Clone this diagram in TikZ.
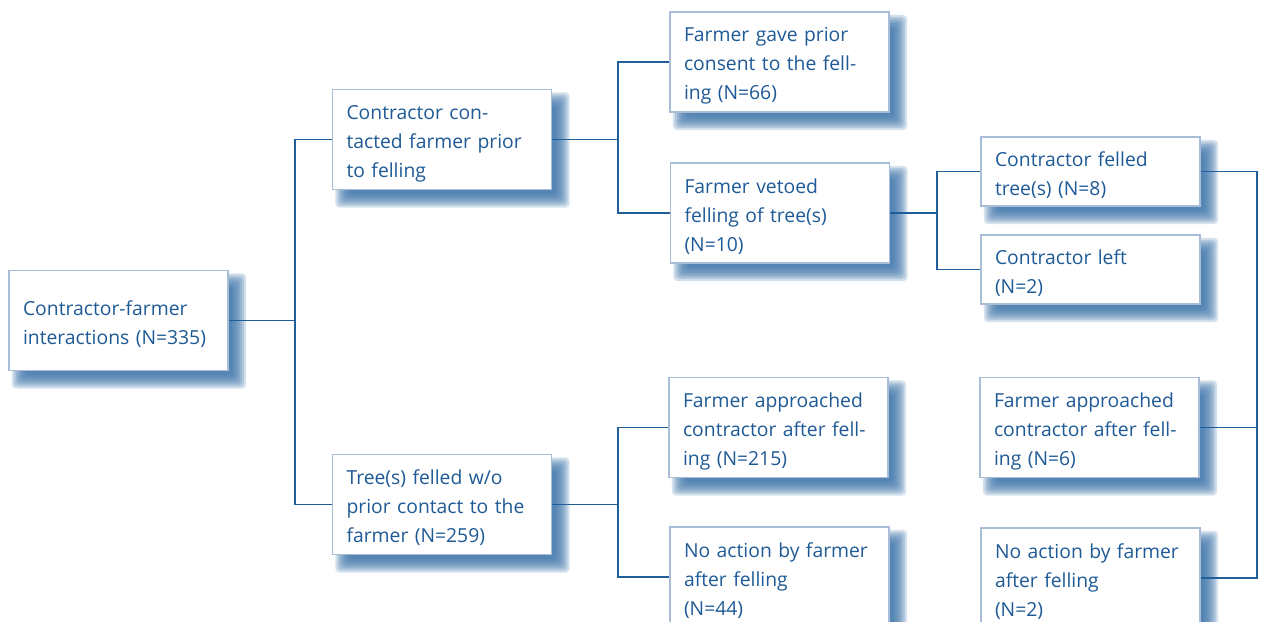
\documentclass[tikz,border=0pt]{standalone}
\usepackage{fontspec}
\usetikzlibrary{calc}
\newfontfamily\boxfont{Open Sans}
\definecolor{textblue}{HTML}{1E5A96}
\definecolor{lineblue}{HTML}{1F5E9B}
\definecolor{edgeblue}{HTML}{A9BDD8}
\definecolor{shadeblue}{HTML}{3A72A8}
\pgfdeclarelayer{background}
\pgfsetlayers{background,main}
\tikzset{
  box/.style={draw=edgeblue, fill=white, line width=0.7pt, text=textblue,
    minimum width=4.38cm, minimum height=2cm, text width=3.82cm,
    inner xsep=0.28cm, inner ysep=2pt, align=left,
    font=\boxfont\fontsize{11}{16.5}\selectfont,
    execute at begin node={\rule{0pt}{12.5pt}}},
  smallbox/.style={box, minimum height=1.38cm},
  shade/.style={fill=shadeblue, opacity=0.22, rounded corners=#1},
  link/.style={draw=lineblue, line width=0.8pt}
}
\begin{document}
\begin{tikzpicture}[x=0.02cm, y=-0.02cm]
  \useasboundingbox (0,0) rectangle (1262,622);

  \node[box] (all) at (118.5,320.5) {Contractor-farmer\\interactions (N=335)};

  \node[box] (contact) at (442,139.5) {Contractor con-\\tacted farmer prior\\to felling};
  \node[box] (nocontact) at (442,504.5) {Tree(s) felled w/o\\prior contact to the\\farmer (N=259)};

  \node[box] (consent) at (779.5,62) {Farmer gave prior\\consent to the fell-\\ing (N=66)};
  \node[box] (veto) at (780,213) {Farmer vetoed\\felling of tree(s)\\(N=10)};
  \node[box] (approach) at (778.5,427.5) {Farmer approached\\contractor after fell-\\ing (N=215)};
  \node[box] (noaction) at (779.5,577) {No action by farmer\\after felling\\(N=44)};

  \node[smallbox] (felled) at (1090.5,171.5) {Contractor felled\\tree(s) (N=8)};
  \node[smallbox] (left) at (1090.5,269.5) {Contractor left\\(N=2)};
  \node[box] (approachb) at (1089.5,427.5) {Farmer approached\\contractor after fell-\\ing (N=6)};
  \node[box] (noactionb) at (1090.5,578) {No action by farmer\\after felling\\(N=2)};

  % soft shadows behind the boxes
  \begin{pgfonlayer}{background}
    \foreach \n in {all,contact,nocontact,consent,veto,approach,noaction,felled,left,approachb,noactionb} {
      \foreach \d in {-0.14,-0.10,...,0.15} {
        \fill[shade=0.08cm] ($(\n.south west)+(0.21cm-\d cm,-0.21cm-\d cm)$)
          rectangle ($(\n.north east)+(0.21cm+\d cm,-0.21cm+\d cm)$);
      }
    }
  \end{pgfonlayer}

  % branch points
  \coordinate (j1) at (295,320.5);
  \coordinate (j2) at (618,139.5);
  \coordinate (j3) at (618,504.5);
  \coordinate (j4) at (937,213);
  \coordinate (j5) at (1257,578);

  \draw[link] (all.east) -- (j1) |- (contact.west);
  \draw[link] (j1) |- (nocontact.west);
  \draw[link] (contact.east) -- (j2) |- (consent.west);
  \draw[link] (j2) |- (veto.west);
  \draw[link] (nocontact.east) -- (j3) |- (approach.west);
  \draw[link] (j3) |- (noaction.west);
  \draw[link] (veto.east) -- (j4) |- (felled.west);
  \draw[link] (j4) |- (left.west);
  \draw[link] (felled.east) -| (j5) -- (noactionb.east);
  \draw[link] (approachb.east) -- (approachb.east -| j5);
\end{tikzpicture}
\end{document}
